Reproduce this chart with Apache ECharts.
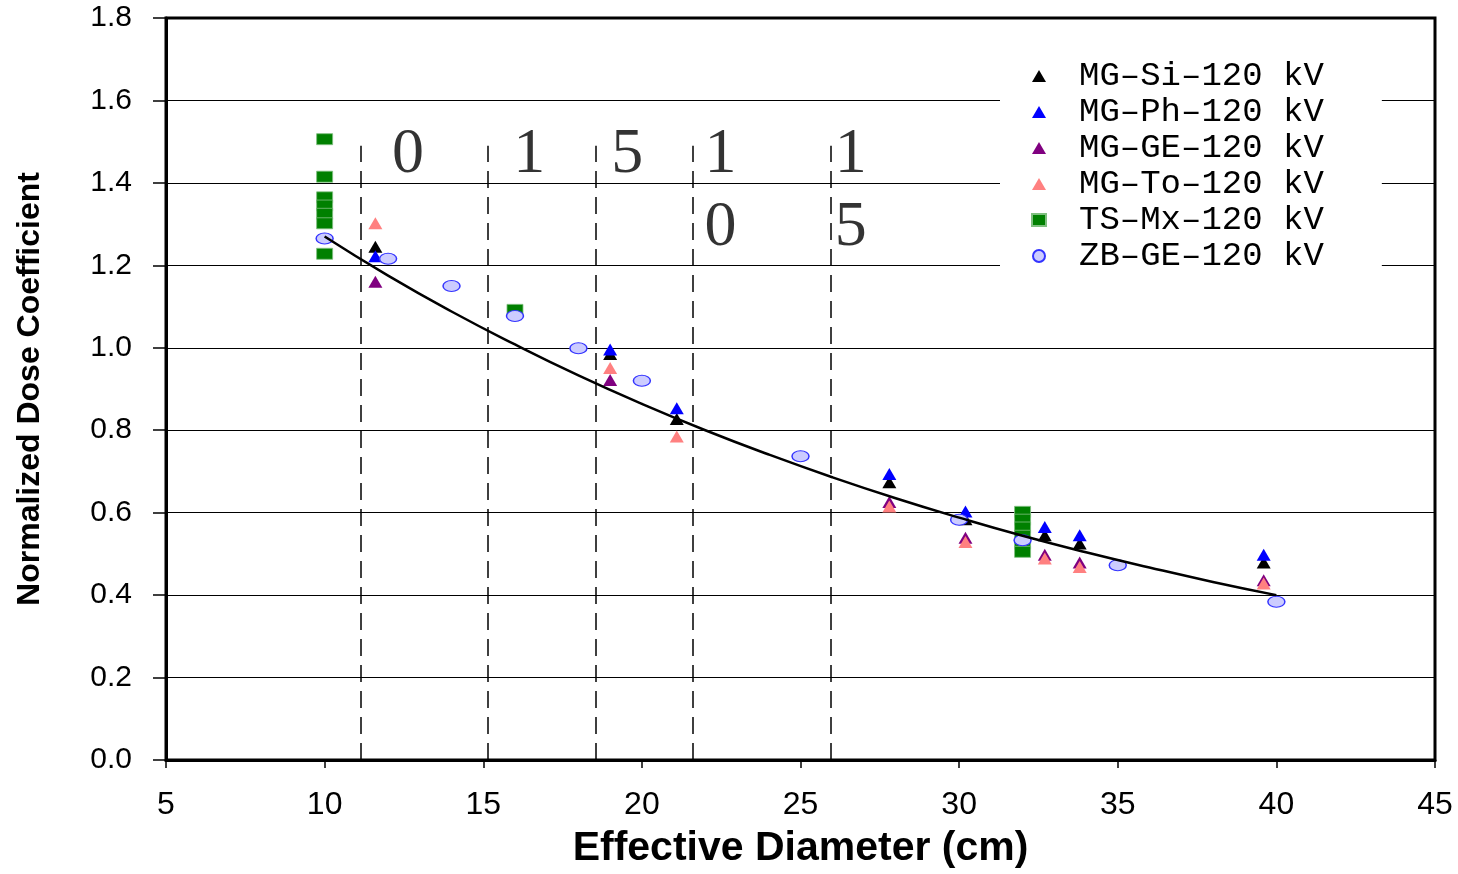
<!DOCTYPE html>
<html>
<head>
    <meta charset="utf-8">
    <title>Normalized Dose Coefficient</title>
    <script src="https://cdn.jsdelivr.net/npm/echarts@6.0.0/dist/echarts.min.js"></script>
    <style>html, body { margin: 0; background: #fff; }</style>
</head>
<body>
    <div id="main" style="width: 1458px;height:874px;"></div>
    <script type="text/javascript">

    // values
    var mgDiam = [11.6, 19.0, 21.1, 27.8, 30.2, 32.7, 33.8, 39.6];
    var mgSi = [1.245, 0.985, 0.827, 0.674, 0.584, 0.545, 0.525, 0.479];
    var mgPh = [1.222, 0.996, 0.853, 0.694, 0.603, 0.565, 0.545, 0.498];
    var mgGe = [1.160, 0.922, null, 0.626, 0.539, 0.498, 0.479, 0.436];
    var mgTo = [1.302, 0.951, 0.785, 0.615, 0.529, 0.489, 0.468, 0.428];

    var tsDiam = [10, 10, 10, 10, 10, 10, 10, 16, 32, 32, 32, 32, 32, 32];
    var tsCoef = [1.506, 1.415, 1.365, 1.345, 1.325, 1.302, 1.228, 1.092, 0.602, 0.583, 0.564, 0.544, 0.525, 0.505];

    var zbDiam = [10, 12, 14, 16, 18, 20, 25, 30, 32, 35, 40];
    var zbCoef = [1.265, 1.216, 1.150, 1.077, 0.999, 0.920, 0.737, 0.583, 0.533, 0.4725, 0.384];

    // fitted curve
    var fitDiam = [10, 12, 14, 16, 18, 20, 22, 24, 26, 28, 30, 32, 34, 36, 38, 40];
    var fitCoef = [1.270, 1.175, 1.088, 1.008, 0.933, 0.864, 0.800, 0.741, 0.686, 0.635, 0.588, 0.544, 0.504, 0.467, 0.432, 0.400];

    // age groups (dashed boundaries and their labels)
    var ageBounds = [11.15, 15.15, 18.55, 21.6, 25.95];
    var ageGroups = ['0', '1', '5', '10', '15'];
    var ageLabelX = [12.63, 16.45, 19.54, 22.48, 26.58];

    var seriesNames = ['MG–Si–120 kV', 'MG–Ph–120 kV', 'MG–GE–120 kV', 'MG–To–120 kV', 'TS–Mx–120 kV', 'ZB–GE–120 kV'];

    function pairs(xs, ys) {
        var out = [];
        for (var i = 0; i < xs.length; i++) {
            if (ys[i] != null) out.push([xs[i], ys[i]]);
        }
        return out;
    }

    // each digit of an age label on its own row
    var ageText = [];
    ageGroups.forEach(function (g, i) {
        g.split('').forEach(function (ch, r) {
            ageText.push([ageLabelX[i], 1.468 - r * 0.178, ch]);
        });
    });

    function tri(name, ys, color) {
        return {
            name: name, type: 'scatter', symbol: 'triangle', symbolSize: [14, 12],
            itemStyle: { color: color, opacity: 1 },
            data: pairs(mgDiam, ys), z: 2, silent: true
        };
    }

    var myChart = echarts.init(document.getElementById('main'));

    var option = {
        backgroundColor: '#fff',
        animation: false,
        grid: {
            left: 166, right: 23, top: 18, bottom: 112,
            show: true, borderColor: '#000', borderWidth: 3, backgroundColor: '#fff'
        },
        legend: {
            data: seriesNames,
            orient: 'vertical',
            left: 1000, top: 51,
            padding: [8, 58, 16, 31],
            itemWidth: 14, itemHeight: 12, itemGap: 2,
            symbolKeepAspect: true,
            backgroundColor: '#fff',
            selectedMode: false,
            textStyle: { fontFamily: 'Liberation Mono', fontSize: 34, color: '#000', padding: [0, 0, 0, 28] }
        },
        xAxis: {
            type: 'value', min: 5, max: 45, interval: 5,
            name: 'Effective Diameter (cm)', nameLocation: 'middle', nameGap: 68,
            nameTextStyle: { fontFamily: 'Liberation Sans', fontWeight: 'bold', fontSize: 41, color: '#000' },
            axisLine: { lineStyle: { color: '#000', width: 3 } },
            axisTick: { length: 8, lineStyle: { color: '#000', width: 1.5 } },
            axisLabel: { margin: 29, fontFamily: 'Liberation Sans', fontSize: 32, color: '#000' },
            splitLine: { show: false }
        },
        yAxis: {
            type: 'value', min: 0, max: 1.8, interval: 0.2,
            name: 'Normalized Dose Coefficient', nameLocation: 'middle', nameGap: 120,
            nameTextStyle: { fontFamily: 'Liberation Sans', fontWeight: 'bold', fontSize: 32, color: '#000' },
            axisLine: { lineStyle: { color: '#000', width: 3 } },
            axisTick: { length: 13, lineStyle: { color: '#000', width: 1.5 } },
            axisLabel: {
                margin: 34, fontFamily: 'Liberation Sans', fontSize: 30, color: '#000',
                formatter: function (v) { return v.toFixed(1); }
            },
            splitLine: { lineStyle: { color: '#000', width: 1.2 } }
        },
        series: [
            tri(seriesNames[0], mgSi, '#000000'),
            tri(seriesNames[1], mgPh, '#0000ff'),
            tri(seriesNames[2], mgGe, '#800080'),
            tri(seriesNames[3], mgTo, '#ff8080'),
            {
                name: seriesNames[4], type: 'scatter', symbol: 'rect', symbolSize: [16, 11],
                itemStyle: { color: '#008000', borderColor: '#7fbf7f', borderWidth: 0.8, opacity: 1 },
                data: pairs(tsDiam, tsCoef), z: 2, silent: true
            },
            {
                name: seriesNames[5], type: 'scatter', symbol: 'circle', symbolSize: [17, 11],
                itemStyle: { color: '#ccccff', borderColor: '#3333ff', borderWidth: 1.2, opacity: 1 },
                data: pairs(zbDiam, zbCoef), z: 2, silent: true
            },
            {
                name: 'fit', type: 'line', smooth: true, showSymbol: false, symbol: 'none',
                lineStyle: { color: '#000', width: 2.5 },
                data: pairs(fitDiam, fitCoef), z: 4, silent: true,
                markLine: {
                    silent: true, symbol: ['none', 'none'],
                    label: { show: false },
                    lineStyle: { color: '#000', width: 1.5, type: [17, 9] },
                    data: ageBounds.map(function (x) {
                        return [{ coord: [x, 0] }, { coord: [x, 1.49] }];
                    })
                }
            },
            {
                name: 'age', type: 'scatter', symbolSize: 1,
                itemStyle: { color: 'transparent' },
                label: {
                    show: true, position: 'inside', color: '#000',
                    fontFamily: 'Liberation Serif', fontSize: 64,
                    formatter: function (p) { return p.data[2]; }
                },
                data: ageText, z: 5, silent: true
            }
        ]
    };

    myChart.setOption(option);
    </script>
</body>
</html>
